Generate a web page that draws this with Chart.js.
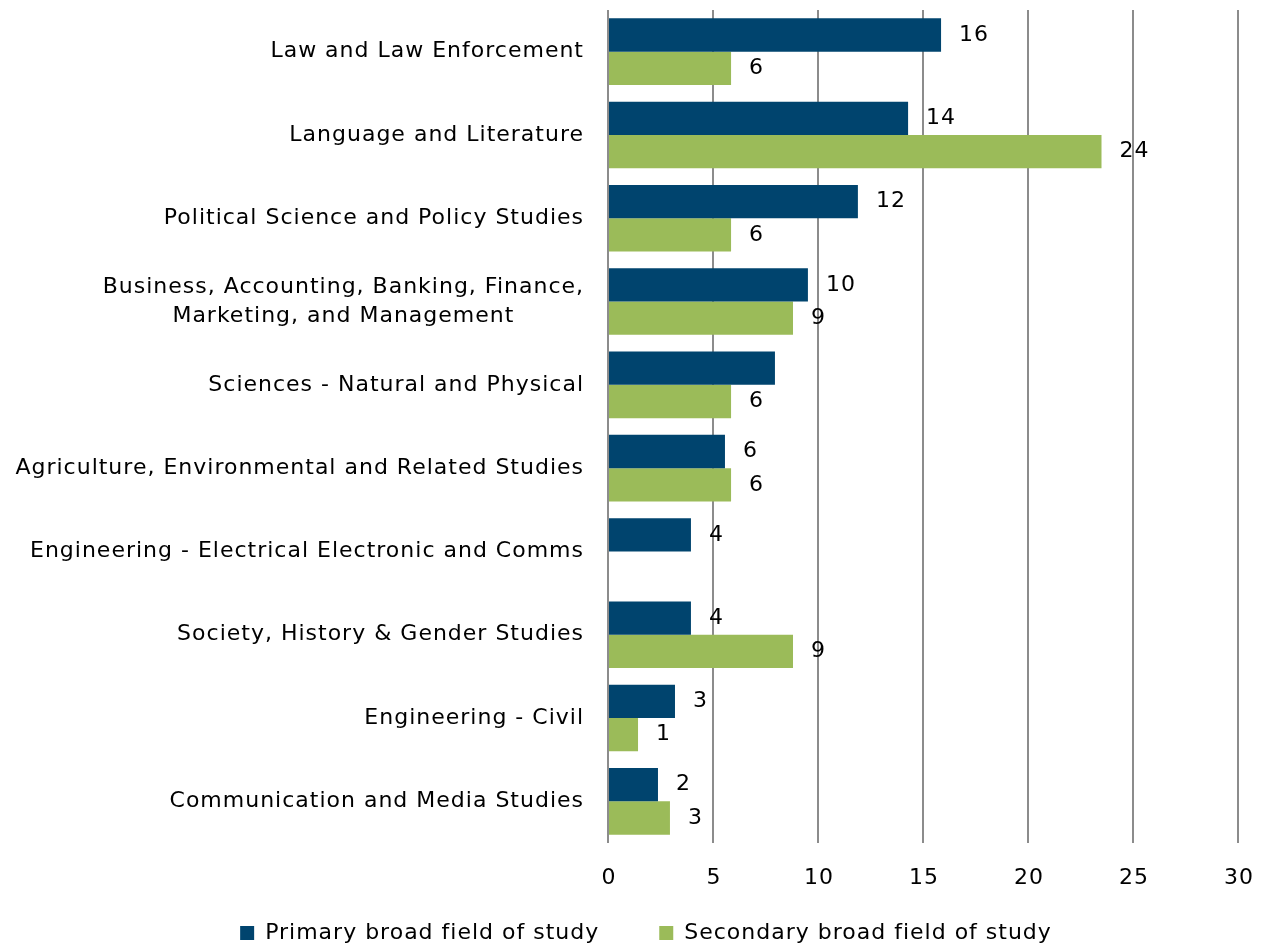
<!DOCTYPE html>
<html>
<head>
<meta charset="utf-8">
<script src="https://cdn.jsdelivr.net/npm/chart.js@4/dist/chart.umd.min.js"></script>
<style>
  html, body { margin: 0; padding: 0; background: #fff; overflow: hidden; }
  #wrap { width: 1269px; height: 954px; }
</style>
</head>
<body>
<div id="wrap"><canvas id="fieldChart" width="1269" height="954"></canvas></div>
<script>
// Categories, top to bottom
const categories = [
  'Law and Law Enforcement',
  'Language and Literature',
  'Political Science and Policy Studies',
  ['Business, Accounting, Banking, Finance,', 'Marketing, and Management'],
  'Sciences - Natural and Physical',
  'Agriculture, Environmental and Related Studies',
  'Engineering - Electrical Electronic and Comms',
  'Society, History & Gender Studies',
  'Engineering - Civil',
  'Communication and Media Studies'
];

// Bar lengths
const primaryValues = [15.86, 14.29, 11.9, 9.52, 7.95, 5.57, 3.95, 3.95, 3.19, 2.38];
const secondaryValues = [5.86, 23.5, 5.86, 8.81, 5.86, 5.86, null, 8.81, 1.43, 2.95];

// Value labels as printed next to the bars (one missing in the original)
const primaryLabels = ['16', '14', '12', '10', null, '6', '4', '4', '3', '2'];
const secondaryLabels = ['6', '24', '6', '9', '6', '6', null, '9', '1', '3'];

const seriesNames = ['Primary broad field of study', 'Secondary broad field of study'];
const xMin = 0, xMax = 30, xStep = 5;

const FONT = 'Verdana, "DejaVu Sans", sans-serif';
const FONT_SIZE = 22;

// canvas width/height resets context state, so set spacing again before layout and draw
const spacingPlugin = {
  id: 'spacing',
  beforeUpdate(chart) { chart.ctx.letterSpacing = '1px'; },
  beforeDraw(chart) { chart.ctx.letterSpacing = '1px'; }
};

// category labels, right aligned block, lines centred within it
const categoryLabels = {
  id: 'categoryLabels',
  afterDraw(chart) {
    const ctx = chart.ctx;
    const yScale = chart.scales.y;
    const right = chart.chartArea.left - 24;
    ctx.save();
    ctx.font = FONT_SIZE + 'px ' + FONT;
    ctx.fillStyle = '#000';
    ctx.textBaseline = 'middle';
    categories.forEach((label, i) => {
      const y = yScale.getPixelForValue(i);
      const lines = Array.isArray(label) ? label : [label];
      const widest = Math.max(...lines.map(l => ctx.measureText(l).width));
      ctx.textAlign = 'center';
      lines.forEach((line, j) => {
        ctx.fillText(line, right - widest / 2, y + (j - (lines.length - 1) / 2) * 29);
      });
    });
    // value axis numbers under the plot
    const xScale = chart.scales.x;
    ctx.textAlign = 'center';
    xScale.ticks.forEach(t => {
      ctx.fillText(String(t.value), xScale.getPixelForValue(t.value) + 1, chart.chartArea.bottom + 35);
    });
    ctx.restore();
  }
};

// value labels just past the end of each bar
const valueLabels = {
  id: 'valueLabels',
  afterDatasetsDraw(chart) {
    const ctx = chart.ctx;
    const labelSets = [primaryLabels, secondaryLabels];
    ctx.save();
    ctx.font = FONT_SIZE + 'px ' + FONT;
    ctx.fillStyle = '#000';
    ctx.textAlign = 'left';
    ctx.textBaseline = 'middle';
    chart.data.datasets.forEach((ds, d) => {
      const meta = chart.getDatasetMeta(d);
      meta.data.forEach((bar, i) => {
        const text = labelSets[d][i];
        if (text == null || ds.data[i] == null) return;
        ctx.fillText(text, bar.x + 18, bar.y);
      });
    });
    ctx.restore();
  }
};

const ctx = document.getElementById('fieldChart').getContext('2d');
const chart = new Chart(ctx, {
  type: 'bar',
  data: {
    labels: categories,
    datasets: [{
      label: seriesNames[0],
      data: primaryValues,
      backgroundColor: '#00446e',
      borderWidth: 0
    }, {
      label: seriesNames[1],
      data: secondaryValues,
      backgroundColor: '#9bbb59',
      borderWidth: 0
    }]
  },
  options: {
    indexAxis: 'y',
    responsive: false,
    animation: false,
    events: [],
    categoryPercentage: 0.8,
    barPercentage: 1.0,
    layout: {
      padding: { top: 10, right: 31, bottom: 0, left: 54 }
    },
    scales: {
      x: {
        min: xMin,
        max: xMax,
        afterFit(scale) { scale.height = 19; },
        grid: {
          color: '#8c8c8c',
          lineWidth: 2,
          drawTicks: false
        },
        border: { display: false },
        ticks: {
          stepSize: xStep,
          display: false
        }
      },
      y: {
        afterFit(scale) { scale.width = 554; },
        grid: { display: false },
        border: { display: false },
        ticks: { display: false }
      }
    },
    plugins: {
      legend: {
        position: 'bottom',
        labels: {
          boxWidth: 14,
          boxHeight: 14,
          padding: 60,
          color: '#000',
          font: { family: FONT, size: FONT_SIZE }
        }
      },
      tooltip: { enabled: false },
      title: { display: false }
    }
  },
  plugins: [spacingPlugin, categoryLabels, valueLabels]
});
</script>
</body>
</html>
